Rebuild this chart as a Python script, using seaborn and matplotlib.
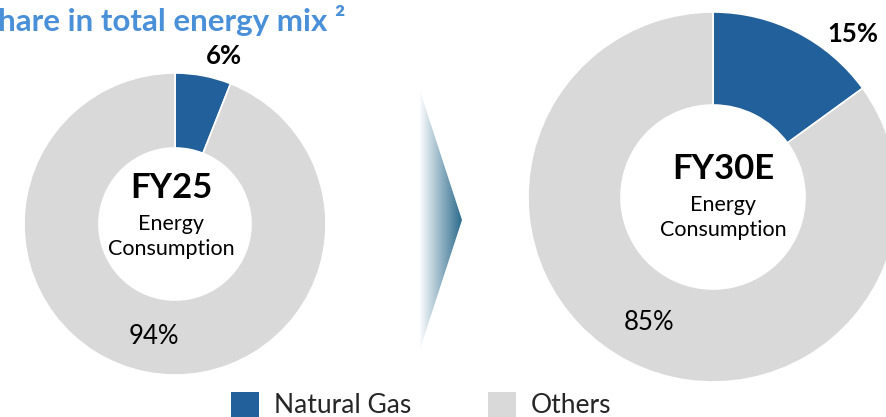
import numpy as np
import matplotlib
matplotlib.use("Agg")
import matplotlib.pyplot as plt
from matplotlib.patches import Polygon, Patch
from matplotlib.colors import LinearSegmentedColormap
import seaborn as sns

# data
years = ["FY25", "FY30E"]
natural_gas = [6, 15]
others = [94, 85]
series_names = ["Natural Gas", "Others"]
sub_lines = ["Energy", "Consumption"]
title = "Share in total energy mix \u00b2"

sns.set_theme(style="white")
plt.rcParams['font.family'] = ['Lato', 'DejaVu Sans']
colors = sns.color_palette(["#22609B", "#D9D9D9"])

W, H = 887, 417
fig = plt.figure(figsize=(W / 100, H / 100), dpi=100)
ax = fig.add_axes([0, 0, 1, 1])

# donut layout (pixel coords, y up)
donuts = [
    dict(center=(175, 193), radius=151, hole=76, txt_dx=-4, fy_dy=36),
    dict(center=(713, 220), radius=185, hole=92, txt_dx=10, fy_dy=28),
]

for i, d in enumerate(donuts):
    vals = [natural_gas[i], others[i]]
    cx, cy = d['center']
    r = d['radius']
    wedges, _ = ax.pie(vals, colors=colors, startangle=90, counterclock=False,
                       center=d['center'], radius=r, frame=True,
                       wedgeprops=dict(width=r - d['hole'], edgecolor='white', linewidth=1.2))
    # percentage labels
    for j, w in enumerate(wedges):
        if j == 0:
            ang = np.deg2rad(w.theta1 + 0.25 * (w.theta2 - w.theta1))
            dist, weight = 1.16 * r, 'bold'
        else:
            ang = np.deg2rad((w.theta1 + w.theta2) / 2)
            dist, weight = 0.76 * r, 'normal'
        ax.text(cx + dist * np.cos(ang), cy + dist * np.sin(ang), f"{vals[j]}%",
                ha='center', va='center', fontsize=18.5, fontweight=weight, color='black')
    # centre text
    tx = cx + d['txt_dx']
    fy = cy + d['fy_dy']
    ax.text(tx, fy, years[i], ha='center', va='center',
            fontsize=25, fontweight='bold', color='black')
    for k, line in enumerate(sub_lines):
        ax.text(tx, fy - 36 - 25 * k, line, ha='center', va='center',
                fontsize=15.5, color='black')

# gradient chevron between the two donuts
tri = Polygon([(419, 329), (462, 197), (419, 65)], closed=True,
              facecolor='none', edgecolor='none')
ax.add_patch(tri)
cmap = LinearSegmentedColormap.from_list("chev", ["#FFFFFF", "#2C6B8C"])
grad = np.linspace(0, 1, 256).reshape(1, -1)
im = ax.imshow(grad, cmap=cmap, extent=[419, 462, 65, 329], aspect='auto', zorder=1)
im.set_clip_path(tri)

# title (first letter falls off the left edge as in the reference)
ax.text(-19, H - 31, title, ha='left', va='baseline', fontsize=22.5,
        fontweight='bold', color='#4A90D9')

ax.set_xlim(0, W)
ax.set_ylim(0, H)
ax.set_aspect('equal')
ax.axis('off')

handles = [Patch(facecolor=c, edgecolor='none') for c in colors]
fig.legend(handles, series_names, loc='center', bbox_to_anchor=(421 / W, 12 / H),
           ncol=2, frameon=False, fontsize=19, handlelength=1.07, handleheight=1.07,
           handletextpad=0.55, columnspacing=2.9, borderpad=0, borderaxespad=0)

fig.savefig("out.png", dpi=100, facecolor='white')
